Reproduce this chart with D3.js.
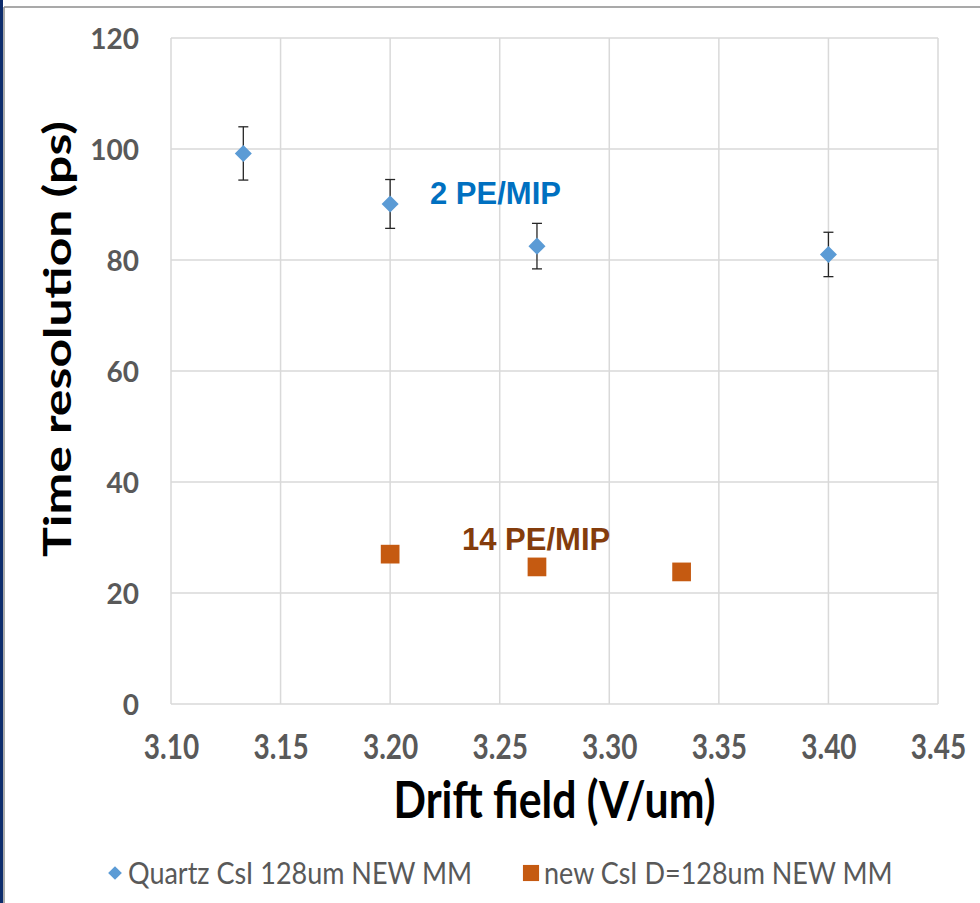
<!DOCTYPE html>
<html>
<head>
<meta charset="utf-8">
<script src="https://cdn.jsdelivr.net/npm/d3@7"></script>
<style>
  body { margin: 0; background: #fff; }
  svg { display: block; }
</style>
</head>
<body>
<div id="chart"></div>
<script>
// data
var quartzX = [3.133, 3.200, 3.267, 3.400],
    quartzY = [99.2, 90.1, 82.5, 81.0],
    quartzErr = [4.8, 4.4, 4.1, 4.0];

var newX = [3.200, 3.267, 3.333],
    newY = [27.0, 24.7, 23.8];

var xTicks = [3.10, 3.15, 3.20, 3.25, 3.30, 3.35, 3.40, 3.45],
    yTicks = [0, 20, 40, 60, 80, 100, 120];

var seriesNames = ["Quartz CsI 128um NEW MM", "new CsI D=128um NEW MM"];

var W = 980, H = 903,
    plot = {left: 171, right: 938, top: 38, bottom: 704};

var blue = "#5B9BD5", orange = "#C55A11",
    tickFont = "Lato, 'Open Sans', sans-serif";

var svg = d3.select("#chart").append("svg")
    .attr("width", W)
    .attr("height", H);

// frame bits round the slide
svg.append("rect").attr("x", 0).attr("y", 0).attr("width", 3).attr("height", H).style("fill", "#0D2C6C");
svg.append("line").attr("x1", 4).attr("x2", 4).attr("y1", 7).attr("y2", H)
    .style("stroke", "#8C8C8C").style("stroke-width", 1.5);
svg.append("line").attr("x1", 4).attr("x2", W).attr("y1", 7).attr("y2", 7)
    .style("stroke", "#8C8C8C").style("stroke-width", 1.5);

var x = d3.scaleLinear()
    .domain([3.10, 3.45])
    .range([plot.left, plot.right]);

var y = d3.scaleLinear()
    .domain([0, 120])
    .range([plot.bottom, plot.top]);

// grid
svg.append("g").selectAll("line")
    .data(xTicks)
  .enter().append("line")
    .attr("x1", function(d) { return x(d); })
    .attr("x2", function(d) { return x(d); })
    .attr("y1", plot.top)
    .attr("y2", plot.bottom)
    .style("stroke", "#D9D9D9")
    .style("stroke-width", 1.5);

svg.append("g").selectAll("line")
    .data(yTicks)
  .enter().append("line")
    .attr("x1", plot.left)
    .attr("x2", plot.right)
    .attr("y1", function(d) { return y(d); })
    .attr("y2", function(d) { return y(d); })
    .style("stroke", "#D9D9D9")
    .style("stroke-width", 1.5);

// axes, only the labels show
var xAxis = d3.axisBottom(x).tickValues(xTicks).tickSize(0).tickPadding(26)
    .tickFormat(d3.format(".2f"));
var yAxis = d3.axisLeft(y).tickValues(yTicks).tickSize(0).tickPadding(32);

var gx = svg.append("g").attr("transform", "translate(0," + plot.bottom + ")").call(xAxis);
var gy = svg.append("g").attr("transform", "translate(" + plot.left + ",0)").call(yAxis);

[gx, gy].forEach(function(g) {
  g.select(".domain").remove();
  g.selectAll("text")
    .style("font-family", tickFont)
    .style("font-weight", "bold")
    .style("font-size", "28px")
    .style("fill", "#595959");
});
// calibri-ish: a bit taller than lato
gx.selectAll("text").attr("transform", "scale(1,1.2)");
gy.selectAll("text").attr("dy", "0.36em");

// axis titles
svg.append("g")
    .attr("transform", "translate(" + ((plot.left + plot.right) / 2) + ",818) scale(1,1.22)")
  .append("text")
    .attr("text-anchor", "middle")
    .attr("textLength", 322)
    .attr("lengthAdjust", "spacingAndGlyphs")
    .style("font-family", tickFont)
    .style("font-weight", "bold")
    .style("font-size", "43px")
    .style("fill", "#000")
    .text("Drift field (V/um)");

svg.append("text")
    .attr("transform", "translate(71,339) rotate(-90)")
    .attr("text-anchor", "middle")
    .attr("textLength", 436)
    .attr("lengthAdjust", "spacingAndGlyphs")
    .style("font-family", tickFont)
    .style("font-weight", "bold")
    .style("font-size", "38px")
    .style("fill", "#000")
    .text("Time resolution (ps)");

// error bars
var errG = svg.append("g").selectAll("g")
    .data(quartzX)
  .enter().append("g");

errG.append("line")
    .attr("x1", function(d) { return x(d); })
    .attr("x2", function(d) { return x(d); })
    .attr("y1", function(d, i) { return y(quartzY[i] + quartzErr[i]); })
    .attr("y2", function(d, i) { return y(quartzY[i] - quartzErr[i]); })
    .style("stroke", "#262626").style("stroke-width", 1.3);

[1, -1].forEach(function(s) {
  errG.append("line")
    .attr("x1", function(d) { return x(d) - 5; })
    .attr("x2", function(d) { return x(d) + 5; })
    .attr("y1", function(d, i) { return y(quartzY[i] + s * quartzErr[i]); })
    .attr("y2", function(d, i) { return y(quartzY[i] + s * quartzErr[i]); })
    .style("stroke", "#262626").style("stroke-width", 1.3);
});

// markers
var diamond = d3.symbol().type(d3.symbolDiamond2).size(185);
var square = d3.symbol().type(d3.symbolSquare).size(350);

svg.append("g").selectAll("path")
    .data(quartzX)
  .enter().append("path")
    .attr("d", diamond)
    .attr("transform", function(d, i) { return "translate(" + x(d) + "," + y(quartzY[i]) + ")"; })
    .style("fill", blue);

svg.append("g").selectAll("path")
    .data(newX)
  .enter().append("path")
    .attr("d", square)
    .attr("transform", function(d, i) { return "translate(" + x(d) + "," + y(newY[i]) + ")"; })
    .style("fill", orange);

// annotations
svg.append("text")
    .attr("x", 430).attr("y", 204)
    .style("font-family", "'Liberation Sans', Arial, sans-serif")
    .style("font-weight", "bold")
    .style("font-size", "31px")
    .style("fill", "#0070C0")
    .text("2 PE/MIP");

svg.append("text")
    .attr("x", 462).attr("y", 550)
    .style("font-family", "'Liberation Sans', Arial, sans-serif")
    .style("font-weight", "bold")
    .style("font-size", "31px")
    .style("fill", "#843C0C")
    .text("14 PE/MIP");

// legend
var legend = svg.append("g").attr("transform", "translate(0,873)");
var legX = [115, 531];

legend.selectAll("path")
    .data(seriesNames)
  .enter().append("path")
    .attr("d", function(d, i) {
      return i === 0 ? d3.symbol().type(d3.symbolDiamond2).size(120)() : d3.symbol().type(d3.symbolSquare).size(260)();
    })
    .attr("transform", function(d, i) { return "translate(" + legX[i] + ",0)"; })
    .style("fill", function(d, i) { return i === 0 ? blue : orange; });

legend.selectAll("g.item")
    .data(seriesNames)
  .enter().append("g")
    .attr("class", "item")
    .attr("transform", function(d, i) { return "translate(" + (legX[i] + 13) + ",0) scale(1,1.15)"; })
  .append("text")
    .attr("dy", "0.36em")
    .style("font-family", tickFont)
    .style("font-size", "27px")
    .style("fill", "#595959")
    .text(function(d) { return d; });
</script>
</body>
</html>
